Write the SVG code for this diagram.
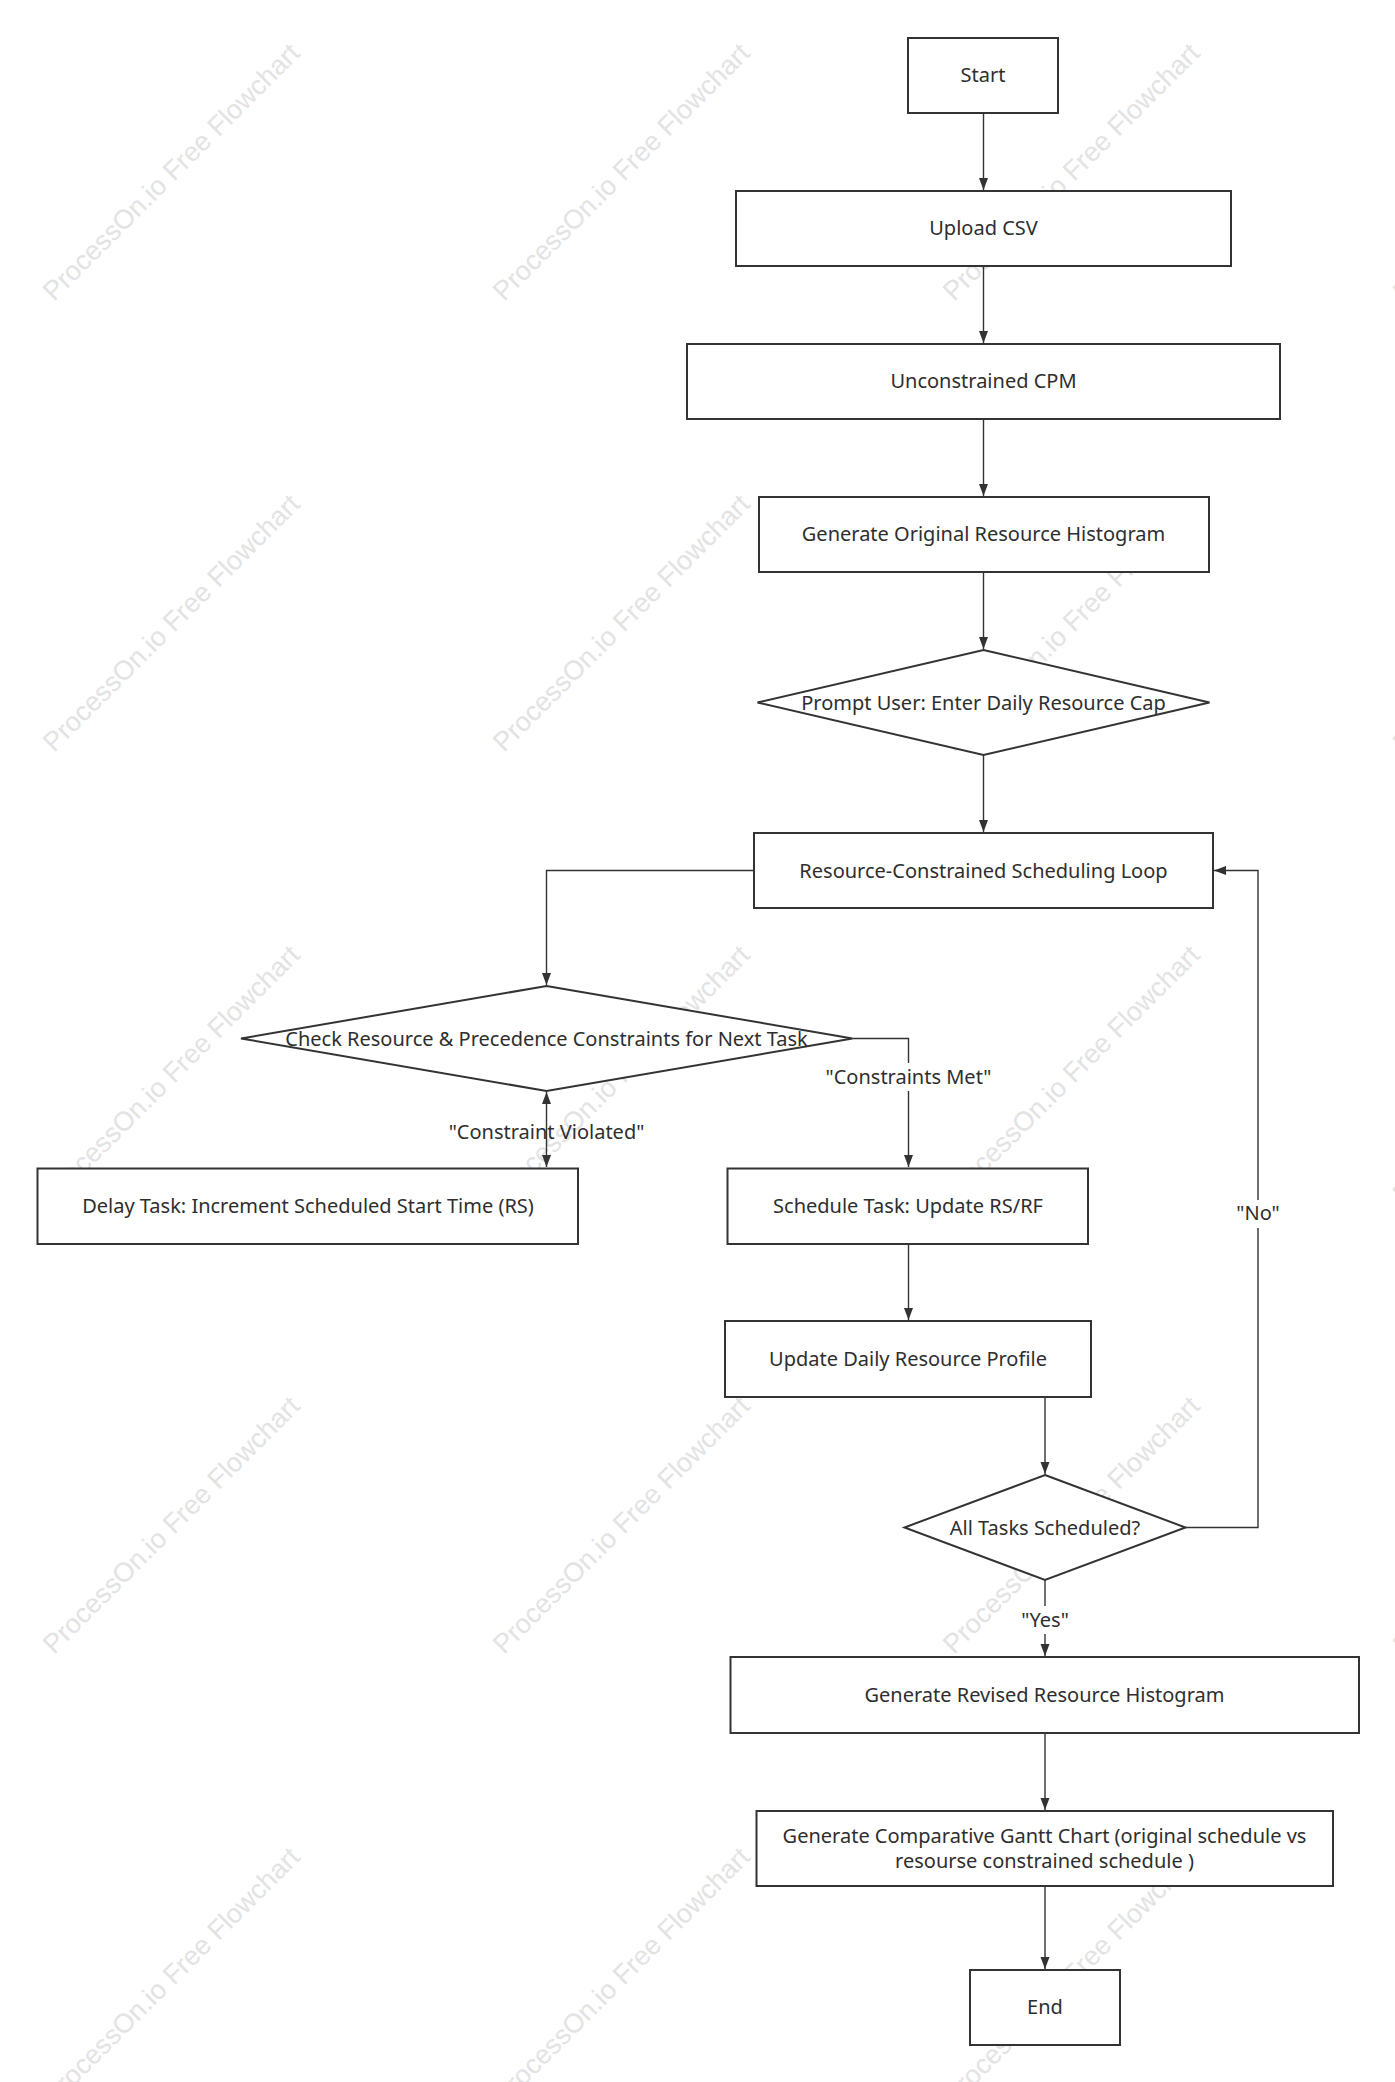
<svg xmlns="http://www.w3.org/2000/svg" width="1395" height="2082" viewBox="0 0 1395 2082">
<style>
.wm{font-family:"Liberation Sans",Arial,sans-serif;font-size:27px;fill:#e3e3e3}
.node{fill:#ffffff;stroke:#333333;stroke-width:2}
.t{font-family:"Noto Sans","Open Sans",sans-serif;font-size:20px;fill:#2e2e2e;text-anchor:middle}
.c{fill:none;stroke:#333333;stroke-width:1.4}
.lbg{fill:#ffffff}
</style>
<defs>
<marker id="arr" markerUnits="userSpaceOnUse" markerWidth="12" markerHeight="10" refX="12" refY="4.5" orient="auto-start-reverse">
<path d="M0,0 L12,4.5 L0,9 z" fill="#333333"/>
</marker>
</defs>
<rect x="0" y="0" width="1395" height="2082" fill="#ffffff"/>
<g id="watermarks">
<text class="wm" transform="translate(54,302) rotate(-45)">ProcessOn.io Free Flowchart</text>
<text class="wm" transform="translate(504,302) rotate(-45)">ProcessOn.io Free Flowchart</text>
<text class="wm" transform="translate(954,302) rotate(-45)">ProcessOn.io Free Flowchart</text>
<text class="wm" transform="translate(1404,302) rotate(-45)">ProcessOn.io Free Flowchart</text>
<text class="wm" transform="translate(54,753) rotate(-45)">ProcessOn.io Free Flowchart</text>
<text class="wm" transform="translate(504,753) rotate(-45)">ProcessOn.io Free Flowchart</text>
<text class="wm" transform="translate(954,753) rotate(-45)">ProcessOn.io Free Flowchart</text>
<text class="wm" transform="translate(1404,753) rotate(-45)">ProcessOn.io Free Flowchart</text>
<text class="wm" transform="translate(54,1204) rotate(-45)">ProcessOn.io Free Flowchart</text>
<text class="wm" transform="translate(504,1204) rotate(-45)">ProcessOn.io Free Flowchart</text>
<text class="wm" transform="translate(954,1204) rotate(-45)">ProcessOn.io Free Flowchart</text>
<text class="wm" transform="translate(1404,1204) rotate(-45)">ProcessOn.io Free Flowchart</text>
<text class="wm" transform="translate(54,1655) rotate(-45)">ProcessOn.io Free Flowchart</text>
<text class="wm" transform="translate(504,1655) rotate(-45)">ProcessOn.io Free Flowchart</text>
<text class="wm" transform="translate(954,1655) rotate(-45)">ProcessOn.io Free Flowchart</text>
<text class="wm" transform="translate(1404,1655) rotate(-45)">ProcessOn.io Free Flowchart</text>
<text class="wm" transform="translate(54,2106) rotate(-45)">ProcessOn.io Free Flowchart</text>
<text class="wm" transform="translate(504,2106) rotate(-45)">ProcessOn.io Free Flowchart</text>
<text class="wm" transform="translate(954,2106) rotate(-45)">ProcessOn.io Free Flowchart</text>
</g>
<g id="connectors">
<path class="c" d="M983.5,114 L983.5,190" marker-end="url(#arr)"/>
<path class="c" d="M983.5,267 L983.5,343" marker-end="url(#arr)"/>
<path class="c" d="M983.5,420 L983.5,496" marker-end="url(#arr)"/>
<path class="c" d="M983.5,573 L983.5,649" marker-end="url(#arr)"/>
<path class="c" d="M983.5,755 L983.5,832" marker-end="url(#arr)"/>
<path class="c" d="M754,870.5 L546.5,870.5 L546.5,985" marker-end="url(#arr)"/>
<path class="c" d="M852.5,1038.5 L908.5,1038.5 L908.5,1167" marker-end="url(#arr)"/>
<path class="c" d="M546.5,1092 L546.5,1167" marker-start="url(#arr)" marker-end="url(#arr)"/>
<path class="c" d="M908.5,1245 L908.5,1320" marker-end="url(#arr)"/>
<path class="c" d="M1045,1398 L1045,1474" marker-end="url(#arr)"/>
<path class="c" d="M1185.5,1527.5 L1258,1527.5 L1258,870.5 L1214,870.5" marker-end="url(#arr)"/>
<path class="c" d="M1045,1580 L1045,1656" marker-end="url(#arr)"/>
<path class="c" d="M1045,1734 L1045,1810" marker-end="url(#arr)"/>
<path class="c" d="M1045,1887 L1045,1969" marker-end="url(#arr)"/>
</g>
<g id="labels">
<rect class="lbg" x="830" y="1063" width="157" height="28"/>
<text class="t" x="908.5" y="1084">"Constraints Met"</text>
<text class="t" x="546.5" y="1139">"Constraint Violated"</text>
<rect class="lbg" x="1238" y="1200" width="40" height="28"/>
<text class="t" x="1258" y="1220">"No"</text>
<rect class="lbg" x="1020" y="1606" width="50" height="28"/>
<text class="t" x="1045" y="1627">"Yes"</text>
</g>
<g id="start"><rect class="node" x="908" y="38" width="150" height="75"/><text class="t" x="983" y="82">Start</text></g>
<g id="upload"><rect class="node" x="736" y="191" width="495" height="75"/><text class="t" x="983.5" y="235">Upload CSV</text></g>
<g id="cpm"><rect class="node" x="687" y="344" width="593" height="75"/><text class="t" x="983.5" y="388">Unconstrained CPM</text></g>
<g id="hist1"><rect class="node" x="759" y="497" width="450" height="75"/><text class="t" x="983.5" y="541">Generate Original Resource Histogram</text></g>
<g id="prompt"><polygon class="node" points="983.5,650 1209.5,702.5 983.5,755 757.5,702.5"/><text class="t" x="983.5" y="709.5">Prompt User: Enter Daily Resource Cap</text></g>
<g id="loop"><rect class="node" x="754" y="833" width="459" height="75"/><text class="t" x="983.5" y="877.5">Resource-Constrained Scheduling Loop</text></g>
<g id="check"><polygon class="node" points="546.5,986 852.5,1038.5 546.5,1091 241,1038.5"/><text class="t" x="546.5" y="1045.5">Check Resource &amp; Precedence Constraints for Next Task</text></g>
<g id="delay"><rect class="node" x="37.5" y="1168.5" width="540.5" height="75.5"/><text class="t" x="308" y="1213">Delay Task: Increment Scheduled Start Time (RS)</text></g>
<g id="schedule"><rect class="node" x="727.5" y="1168.5" width="360.5" height="75.5"/><text class="t" x="908" y="1213">Schedule Task: Update RS/RF</text></g>
<g id="profile"><rect class="node" x="725" y="1321" width="366" height="76"/><text class="t" x="908" y="1366">Update Daily Resource Profile</text></g>
<g id="alldone"><polygon class="node" points="1045,1475 1185.5,1527.5 1045,1580 904.5,1527.5"/><text class="t" x="1045" y="1534.5">All Tasks Scheduled?</text></g>
<g id="hist2"><rect class="node" x="730.5" y="1657" width="628.5" height="76"/><text class="t" x="1044.5" y="1702">Generate Revised Resource Histogram</text></g>
<g id="gantt"><rect class="node" x="756.5" y="1811" width="576.5" height="75"/><text class="t" x="1044.5" y="1843">Generate Comparative Gantt Chart (original schedule vs</text><text class="t" x="1044.5" y="1868">resourse constrained schedule )</text></g>
<g id="end"><rect class="node" x="970" y="1970" width="150" height="75"/><text class="t" x="1045" y="2014">End</text></g>
</svg>
